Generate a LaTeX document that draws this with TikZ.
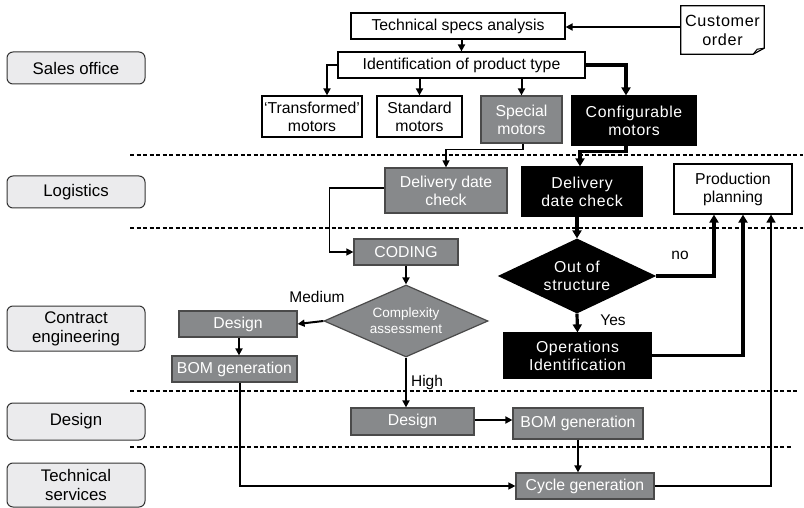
\documentclass[tikz,border=0pt]{standalone}
\usepackage{fontspec}
\setmainfont{Liberation Sans}
\newfontfamily\spacedfont[LetterSpace=4]{Liberation Sans}
\usetikzlibrary{arrows.meta,shapes.geometric,calc}
\definecolor{boxgray}{HTML}{87898B}
\definecolor{edgegray}{HTML}{4A4A4A}
\definecolor{lanefill}{HTML}{EBEBED}
\begin{document}
\begin{tikzpicture}[x=1pt,y=-1pt,
  font=\fontsize{15.8}{18}\selectfont,
  every node/.style={inner sep=0pt,align=center},
  wbox/.style={draw=black,line width=1.2pt,fill=white},
  gbox/.style={draw=edgegray,line width=1.2pt,fill=boxgray,text=white},
  bbox/.style={draw=black,line width=1.2pt,fill=black,text=white,
    font=\spacedfont\fontsize{15.8}{18}\selectfont},
  lane/.style={draw=black!80,line width=1pt,fill=lanefill,rounded corners=6pt,
    minimum width=138,font=\fontsize{16.8}{19}\selectfont},
  sep/.style={line width=1.5pt,dash pattern=on 4pt off 2.5pt},
  thin/.style={line width=1.3pt,-{Triangle[length=7pt,width=7pt]}},
  mid/.style={line width=2pt,-{Triangle[length=7pt,width=7pt]}},
  heavy/.style={line width=3.2pt,-{Triangle[length=8pt,width=9pt]}},
  lbl/.style={font=\fontsize{15.5}{18}\selectfont}
]
\useasboundingbox (0,0) rectangle (804,508);

% lane separators
\draw[sep] (130,155) -- (803,155);
\draw[sep] (130,228) -- (803,228);
\draw[sep] (130,391) -- (797,391);
\draw[sep] (130,447) -- (792,447);

% lane titles
\node[lane,minimum height=32] (lsales) at (76,68) {Sales office};
\node[lane,minimum height=32] (llog) at (76,192) {Logistics};
\node[lane,minimum height=45] (lce) at (76,328.5) {Contract\\engineering};
\node[lane,minimum height=37] (ldes) at (76,421.5) {Design};
\node[lane,minimum height=44] (lts) at (76,485) {Technical\\services};

% sales office
\node[wbox,minimum width=214,minimum height=26] (tsa) at (458,26) {Technical specs analysis};
\node[minimum width=83,minimum height=48,font=\spacedfont\fontsize{16.2}{19}\selectfont] (cust) at (722.5,30) {Customer\\order};
\draw[line width=1.2pt] (cust.north west) -- (cust.north east) -- ($(cust.south east)+(0,-6)$)
  -- ($(cust.south east)+(-11,0)$) -- (cust.south west) -- cycle;
\draw[line width=1pt] ($(cust.south east)+(-11,0)$) -- ($(cust.south east)+(-7,-5)$) -- ($(cust.south east)+(0,-6)$);
\node[wbox,minimum width=247,minimum height=26] (ident) at (461.5,65) {Identification of product type};
\node[wbox,minimum width=100,minimum height=41] (trans) at (312,116.5) {‘Transformed’\\motors};
\node[wbox,minimum width=85,minimum height=41] (std) at (419.5,116.5) {Standard\\motors};
\node[gbox,minimum width=81,minimum height=47] (spec) at (521.5,119.5) {Special\\motors};
\node[bbox,minimum width=124,minimum height=49] (conf) at (634,120.5) {Configurable\\motors};

% logistics
\node[gbox,minimum width=122,minimum height=45] (ddcg) at (446,190.5) {Delivery date\\check};
\node[bbox,minimum width=120,minimum height=49] (ddcb) at (582,191.5) {Delivery\\date check};
\node[wbox,minimum width=118,minimum height=50] (pp) at (733,189) {Production\\planning};

% contract engineering
\node[gbox,minimum width=104,minimum height=26] (coding) at (406,252) {CODING};
\node[diamond,aspect=2.28,gbox,minimum width=164,minimum height=72,
  font=\fontsize{13.5}{16}\selectfont] (cplx) at (406,321) {Complexity\\assessment};
\node[diamond,aspect=2.1,bbox,minimum width=156,minimum height=74] (oos) at (577,276) {Out of\\structure};
\node[bbox,minimum width=147,minimum height=45] (ops) at (577.5,355.5) {Operations\\Identification};
\node[gbox,minimum width=118,minimum height=26] (desce) at (238,324) {Design};
\node[gbox,minimum width=125,minimum height=26] (bomce) at (234.5,369) {BOM generation};

% design
\node[gbox,minimum width=123,minimum height=27] (desd) at (412.5,421.5) {Design};
\node[gbox,minimum width=130,minimum height=31] (bomd) at (578,423.5) {BOM generation};

% technical services
\node[gbox,minimum width=138,minimum height=26] (cyc) at (585,486) {Cycle generation};

% flow
\draw[mid] (cust.west |- 0,27) -- (tsa.east |- 0,27);
\draw[mid] (tsa.south -| ident.north) -- (ident.north);
\draw[mid] (ident.west) -| ([xshift=15pt]trans.north);
\draw[mid] (std.north |- ident.south) -- (std.north);
\draw[mid] (spec.north |- ident.south) -- (spec.north);
\draw[heavy] (ident.east) -| ([xshift=-8pt]conf.north);

\draw[thin] ([xshift=1.5pt]spec.south) -- ++(0,6) -| (ddcg.north);
\draw[heavy] ([xshift=-8pt]conf.south) -- ++(0,6) -| ([xshift=-2pt]ddcb.north);
\draw[thin] ([yshift=2.5pt]ddcg.west) -- ++(-55,0) |- (coding.west);
\draw[mid] (coding.south) -- (cplx.north);
\draw[mid] (cplx.west) -- (desce.east);
\node[lbl] (medium) at (317,297) {Medium};
\draw[mid] ([xshift=1pt]desce.south) -- ([xshift=1pt]desce.south |- bomce.north);
\draw[mid] (cplx.south) -- (cplx.south |- desd.north);
\node[lbl] (high) at (427,382) {High};
\draw[mid] ([yshift=1.5pt]desd.east) -- ([yshift=1.5pt]desd.east -| bomd.west);
\draw[thin] ([xshift=5.5pt]bomce.south) |- (cyc.west);
\draw[mid] (bomd.south) -- (bomd.south |- cyc.north);

\draw[heavy] (ddcb.south -| oos.north) -- (oos.north);
\draw[heavy] (oos.south) -- (ops.north);
\node[lbl] (yes) at (613,320) {Yes};
\draw[heavy] (oos.east) -| ([xshift=-19pt]pp.south);
\node[lbl] (no) at (680,255) {no};
\draw[heavy] (ops.east) -| ([xshift=10pt]pp.south);
\draw[thin,-{Triangle[length=8pt,width=9pt]}] (cyc.east) -| ([xshift=38pt]pp.south);
\end{tikzpicture}
\end{document}
